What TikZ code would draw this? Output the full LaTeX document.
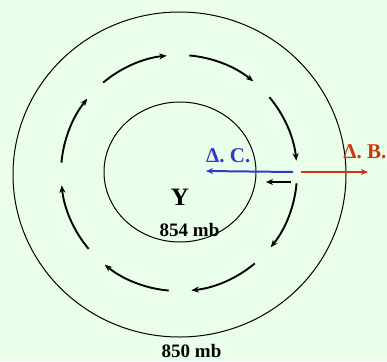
\documentclass[tikz,border=0pt]{standalone}
\usepackage{fontspec}
\setmainfont{Liberation Serif}
\usetikzlibrary{arrows.meta, positioning}

\definecolor{bgcol}{RGB}{234,255,234}
\definecolor{acblue}{RGB}{55,55,205}
\definecolor{abred}{RGB}{205,55,15}

\begin{document}
\begin{tikzpicture}[
    x=1pt, y=-1pt,
    label/.style={font=\bfseries\fontsize{19}{21}\selectfont, inner sep=0pt},
    dlabel/.style={font=\bfseries\fontsize{21}{23}\selectfont, inner sep=0pt},
    circ/.style={line width=1.9pt, -{Stealth[length=7.5pt, width=6pt]}},
    flow/.style={line width=2pt, -{Stealth[length=7pt, width=6pt]}}
]
    \useasboundingbox[fill=bgcol] (0,0) rectangle (387,361);

    % isobars
    \draw[line width=1pt] (179.5,174.5) ellipse [x radius=166.5, y radius=162.5];
    \draw[line width=1pt] (180,172) ellipse [x radius=76, y radius=70];

    % circulation
    \begin{scope}[shift={(179,173)}, y=1pt]
        \foreach \a in {130,85,40,-5,-50,-95,-140,175}
            \draw[circ] (\a:118) arc[start angle=\a, end angle=\a-34, radius=118];
    \end{scope}

    \node[font=\bfseries\fontsize{25}{27}\selectfont, inner sep=0pt] (low) at (180,197) {Y};
    \node[label] (p854) at (189.5,230) {854 mb};
    \node[label] (p850) at (191.5,351) {850 mb};

    \coordinate (mid) at (293,172);
    \coordinate (ac) at (206,171);
    \coordinate (ab) at (368,172);
    \coordinate (s0) at (291,182);
    \coordinate (s1) at (266,182);

    \draw[flow, acblue] (mid) -- (ac);
    \draw[flow, abred] ([xshift=8pt]mid) -- (ab);
    \draw[flow, line width=2.2pt] (s0) -- (s1);

    \node[dlabel, text=acblue, anchor=west] (aclbl) at (206,156) {Δ. C.};
    \node[dlabel, text=abred, anchor=east] (ablbl) at (386.5,152) {Δ. B.};
\end{tikzpicture}
\end{document}
